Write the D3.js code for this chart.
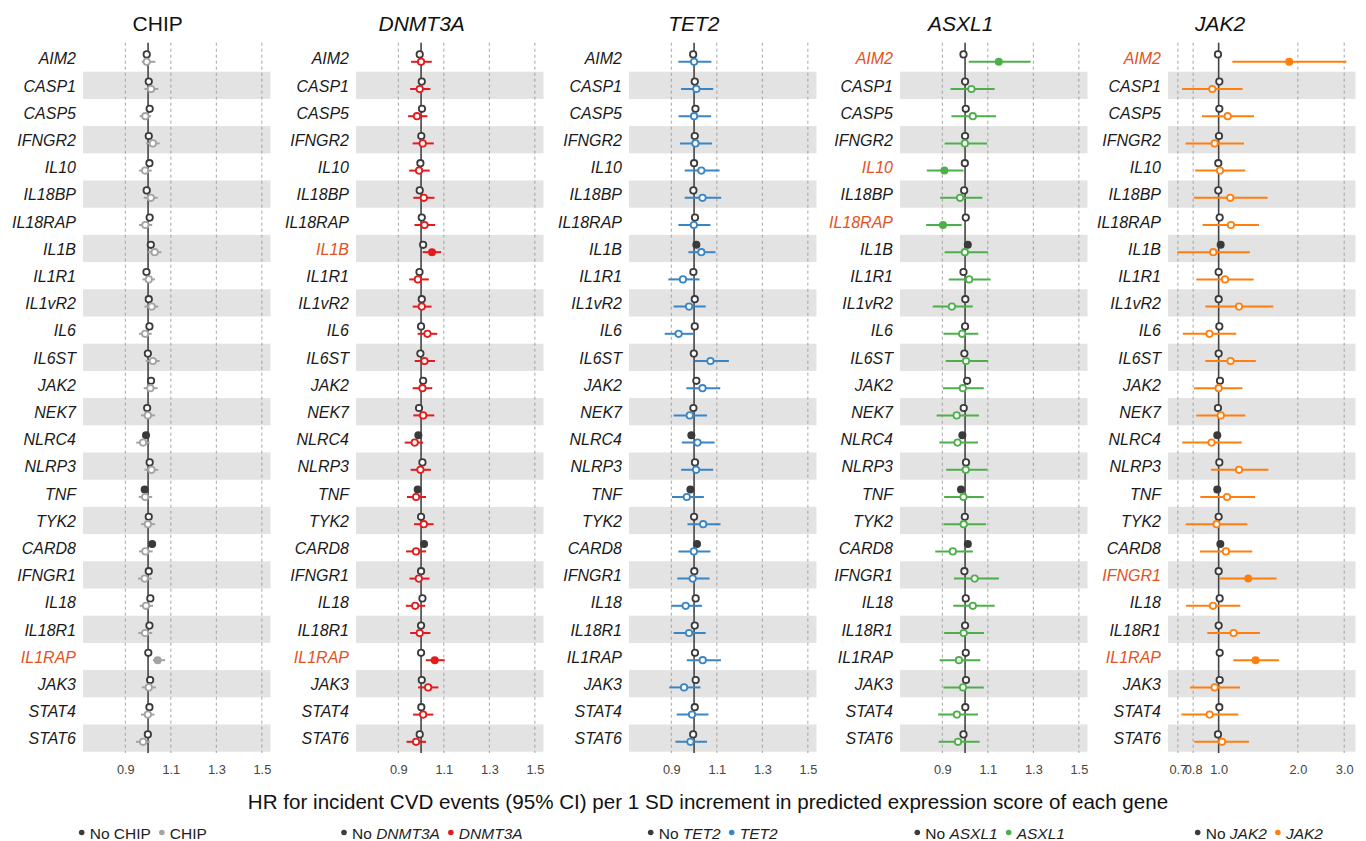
<!DOCTYPE html>
<html><head><meta charset="utf-8">
<script src="https://cdn.jsdelivr.net/npm/d3@7"></script>
<style>body{margin:0;background:#fff} svg{display:block} text{font-family:"Liberation Sans",Arial,sans-serif}</style>
</head><body><svg id="c" width="1366" height="841"></svg>
<script>
const genes=["AIM2","CASP1","CASP5","IFNGR2","IL10","IL18BP","IL18RAP","IL1B","IL1R1","IL1vR2","IL6","IL6ST","JAK2","NEK7","NLRC4","NLRP3","TNF","TYK2","CARD8","IFNGR1","IL18","IL18R1","IL1RAP","JAK3","STAT4","STAT6"];
const panels=["CHIP","DNMT3A","TET2","ASXL1","JAK2"];
const linTicks=[0.9,1.1,1.3,1.5];
const logTicks=[0.7,0.8,1.0,2.0,3.0];

// "No X" (reference) hazard ratios
const refCHIP=[0.994,1.003,1.007,1.003,1.006,0.994,1.007,1.012,0.993,1.003,1.006,0.999,1.013,0.996,0.991,1.007,0.985,1.003,1.018,1.003,1.010,1.006,1.001,1.009,1.006,0.999];
const refDNMT3A=[0.994,1.003,1.004,1.001,0.997,0.994,1.003,1.009,0.993,1.003,1.000,0.997,1.009,0.991,0.988,1.006,0.985,1.000,1.013,1.000,1.006,1.000,1.000,1.003,1.001,0.994];
const refTET2=[0.996,1.003,1.006,1.003,1.000,0.997,1.004,1.010,0.997,1.003,1.003,0.999,1.010,0.997,0.988,1.004,0.984,1.000,1.013,1.001,1.007,1.003,1.004,1.007,1.003,0.996];
const refASXL1=[0.993,1.000,1.003,1.000,0.999,0.996,1.003,1.012,0.993,1.001,1.000,0.997,1.009,0.994,0.988,1.004,0.982,0.999,1.012,0.997,1.003,1.000,1.003,1.004,1.001,0.993];
const refJAK2=[0.994,1.006,1.006,1.003,0.997,0.997,1.009,1.018,1.000,1.000,1.006,1.000,1.012,0.994,0.988,1.006,0.988,1.000,1.015,1.000,1.009,1.000,1.009,1.009,1.006,0.994];

// carrier hazard ratios with 95% CI
const hrCHIP=[0.994,1.013,0.988,1.021,0.987,1.012,0.988,1.029,1.003,1.016,0.987,1.021,1.010,0.999,0.978,1.015,0.987,0.999,0.988,0.985,0.991,0.987,1.042,1.003,0.999,0.978];
const loCHIP=[0.972,0.984,0.963,0.991,0.960,0.981,0.960,0.999,0.975,0.984,0.960,0.990,0.981,0.969,0.948,0.984,0.959,0.969,0.960,0.956,0.963,0.957,1.021,0.972,0.969,0.947];
const hiCHIP=[1.032,1.045,1.013,1.051,1.016,1.042,1.018,1.059,1.030,1.045,1.016,1.051,1.042,1.031,1.007,1.045,1.018,1.031,1.020,1.016,1.022,1.018,1.075,1.035,1.028,1.007];

const hrDNMT3A=[1.000,0.994,0.982,1.007,0.991,1.012,1.015,1.048,0.986,1.003,1.028,1.015,1.006,1.009,0.972,0.997,0.978,1.012,0.978,0.990,0.974,0.994,1.060,1.031,1.009,0.978];
const loDNMT3A=[0.956,0.952,0.943,0.963,0.948,0.966,0.971,1.007,0.948,0.963,0.985,0.972,0.963,0.966,0.928,0.954,0.938,0.969,0.934,0.949,0.933,0.952,1.021,0.987,0.965,0.936];
const hiDNMT3A=[1.047,1.041,1.028,1.056,1.038,1.059,1.062,1.088,1.034,1.046,1.071,1.061,1.049,1.058,1.009,1.043,1.022,1.055,1.022,1.037,1.018,1.041,1.104,1.076,1.054,1.022];

const hrTET2=[1.000,1.010,1.000,1.006,1.032,1.037,0.999,1.032,0.951,0.978,0.932,1.072,1.037,0.981,1.015,1.009,0.968,1.040,0.999,0.994,0.963,0.978,1.038,0.956,0.991,0.984];
const loTET2=[0.931,0.943,0.932,0.938,0.959,0.959,0.931,0.975,0.887,0.910,0.871,1.003,0.966,0.910,0.946,0.943,0.903,0.971,0.931,0.926,0.899,0.910,0.968,0.891,0.924,0.918];
const hiTET2=[1.076,1.084,1.075,1.079,1.112,1.119,1.072,1.094,1.024,1.051,1.001,1.153,1.115,1.057,1.090,1.084,1.043,1.116,1.072,1.068,1.035,1.051,1.118,1.028,1.063,1.057];

const hrASXL1=[1.148,1.028,1.034,0.999,0.909,0.978,0.903,0.999,1.018,0.942,0.987,1.004,0.990,0.963,0.967,1.003,0.993,0.994,0.946,1.042,1.034,0.994,0.973,0.991,0.964,0.969];
const loASXL1=[1.016,0.936,0.940,0.910,0.832,0.890,0.829,0.910,0.928,0.858,0.905,0.915,0.903,0.875,0.887,0.917,0.908,0.905,0.869,0.951,0.948,0.908,0.888,0.905,0.882,0.884];
const hiASXL1=[1.288,1.130,1.136,1.097,0.993,1.076,0.985,1.101,1.112,1.034,1.058,1.101,1.082,1.061,1.057,1.097,1.082,1.092,1.034,1.149,1.130,1.083,1.067,1.082,1.057,1.064];

const hrJAK2=[1.855,0.946,1.082,0.966,1.012,1.107,1.114,0.954,1.057,1.195,0.923,1.110,1.000,1.019,0.940,1.195,1.076,0.982,1.066,1.296,0.952,1.140,1.382,0.966,0.924,1.030];
const loJAK2=[1.127,0.726,0.864,0.749,0.815,0.804,0.869,0.697,0.822,0.890,0.731,0.890,0.807,0.822,0.727,0.935,0.852,0.750,0.849,1.006,0.752,0.906,1.137,0.778,0.722,0.808];
const hiJAK2=[3.060,1.233,1.362,1.248,1.262,1.535,1.423,1.315,1.359,1.614,1.166,1.384,1.232,1.263,1.224,1.546,1.376,1.286,1.342,1.660,1.208,1.435,1.694,1.205,1.188,1.304];

// significant results (filled markers)
const sigRefCHIP=["NLRC4","TNF","CARD8"];
const sigRefDNMT3A=["NLRC4","TNF","CARD8"];
const sigRefTET2=["IL1B","NLRC4","TNF","CARD8"];
const sigRefASXL1=["IL1B","NLRC4","TNF","CARD8"];
const sigRefJAK2=["IL1B","NLRC4","TNF","CARD8"];
const sigCHIP=["IL1RAP"];
const sigDNMT3A=["IL1B","IL1RAP"];
const sigTET2=[];
const sigASXL1=["AIM2","IL10","IL18RAP"];
const sigJAK2=["AIM2","IFNGR1","IL1RAP"];

const colors=["#a3a3a3","#e41a1c","#3a85c4","#4daf4a","#ff7f0e"];
const xTitle="HR for incident CVD events (95% CI) per 1 SD increment in predicted expression score of each gene";

const refs=[refCHIP,refDNMT3A,refTET2,refASXL1,refJAK2];
const hrs=[hrCHIP,hrDNMT3A,hrTET2,hrASXL1,hrJAK2];
const los=[loCHIP,loDNMT3A,loTET2,loASXL1,loJAK2];
const his=[hiCHIP,hiDNMT3A,hiTET2,hiASXL1,hiJAK2];
const sigRefs=[sigRefCHIP,sigRefDNMT3A,sigRefTET2,sigRefASXL1,sigRefJAK2];
const sigs=[sigCHIP,sigDNMT3A,sigTET2,sigASXL1,sigJAK2];

// layout
const panelLeft=[83,356,629,900,1168];
const panelW=187.5;
const titleX=[157.7,421.7,693.8,960.7,1220];
const legendX=[81.7,344,650.7,917.3,1197.7];
const yTop=44.5, rowH=27.2, plotTop=42.7, plotBot=753;
const darkPt="#3a3a3a", hiLabel="#e2521d";

const svg=d3.select("#c");
const y=d3.scaleBand().domain(genes).range([yTop,yTop+rowH*genes.length]).padding(0);
const off=3.7;

panels.forEach((p,i)=>{
  const x0=panelLeft[i];
  const isLog=p==="JAK2";
  const x=isLog? d3.scaleLog().domain([0.642,3.312]).range([x0,x0+panelW])
               : d3.scaleLinear().domain([0.714,1.538]).range([x0,x0+panelW]);
  const ticks=isLog?logTicks:linTicks;
  const col=colors[i];
  const g=svg.append("g");
  const italic=p!=="CHIP";

  g.selectAll("rect.band").data(genes.filter((d,j)=>j%2===1)).join("rect")
    .attr("x",x0).attr("width",panelW).attr("y",d=>y(d)).attr("height",y.bandwidth()).attr("fill","#e3e3e3");

  g.selectAll("line.grid").data(ticks.filter(t=>t!==1)).join("line")
    .attr("x1",d=>x(d)).attr("x2",d=>x(d)).attr("y1",plotTop).attr("y2",plotBot)
    .attr("stroke","#9a9a9a").attr("stroke-width",0.9).attr("stroke-dasharray","3,3");

  g.append("line").attr("x1",x(1)).attr("x2",x(1)).attr("y1",plotTop).attr("y2",plotBot)
    .attr("stroke","#444").attr("stroke-width",1.6);

  const ax=g.append("g").attr("transform",`translate(0,${plotBot})`)
    .call(d3.axisBottom(x).tickValues(ticks).tickFormat(d3.format(".1f")).tickSize(0).tickPadding(12));
  ax.select(".domain").remove();
  ax.selectAll("text").attr("font-size",12.8).attr("fill","#444").attr("font-family","Liberation Sans, Arial, sans-serif");

  // title
  g.append("text").attr("x",titleX[i]).attr("y",31).attr("text-anchor","middle")
    .attr("font-size",21).attr("font-style",italic?"italic":"normal").attr("fill","#111").text(p);

  // gene labels
  g.selectAll("text.gene").data(genes).join("text")
    .attr("x",x0-7).attr("y",d=>y(d)+y.bandwidth()/2+6.3).attr("text-anchor","end")
    .attr("font-size",16).attr("font-style","italic")
    .attr("fill",d=>sigs[i].includes(d)?hiLabel:"#1a1a1a").text(d=>d);

  const mut=genes.map((d,j)=>({g:d,hr:hrs[i][j],lo:los[i][j],hi:his[i][j],sig:sigs[i].includes(d)}));
  const ref=genes.map((d,j)=>({g:d,hr:refs[i][j],sig:sigRefs[i].includes(d)}));
  const cy=d=>y(d)+y.bandwidth()/2;

  // reference points
  g.selectAll("circle.ref").data(ref).join("circle")
    .attr("cx",d=>x(d.hr)).attr("cy",d=>cy(d.g)-off)
    .attr("r",d=>d.sig?4:3.2)
    .attr("fill",d=>d.sig?darkPt:"#fff").attr("stroke",darkPt).attr("stroke-width",d=>d.sig?0:1.8);

  // CI
  g.selectAll("line.ci").data(mut).join("line")
    .attr("x1",d=>x(d.lo)).attr("x2",d=>x(d.hi)).attr("y1",d=>cy(d.g)+off).attr("y2",d=>cy(d.g)+off)
    .attr("stroke",col).attr("stroke-width",2);
  g.selectAll("circle.mut").data(mut).join("circle")
    .attr("cx",d=>x(d.hr)).attr("cy",d=>cy(d.g)+off)
    .attr("r",d=>d.sig?4:3.2)
    .attr("fill",d=>d.sig?col:"#fff").attr("stroke",col).attr("stroke-width",d=>d.sig?0:1.8);

  // legend
  const lg=g.append("g").attr("transform",`translate(0,833)`);
  let lx=legendX[i];
  [["No ",darkPt],["",col]].forEach(([pre,c])=>{
    lg.append("circle").attr("cx",lx).attr("cy",-0.5).attr("r",2.8).attr("fill",c);
    const t=lg.append("text").attr("x",lx+8).attr("y",5.5).attr("font-size",15.5).attr("fill","#222");
    if(pre) t.append("tspan").text(pre);
    t.append("tspan").attr("font-style",italic?"italic":"normal").text(p);
    lx+=8+t.node().getComputedTextLength()+11;
  });
});

svg.append("text").attr("x",708).attr("y",809).attr("text-anchor","middle")
  .attr("font-size",20.6).attr("fill","#111").text(xTitle);
</script></body></html>
